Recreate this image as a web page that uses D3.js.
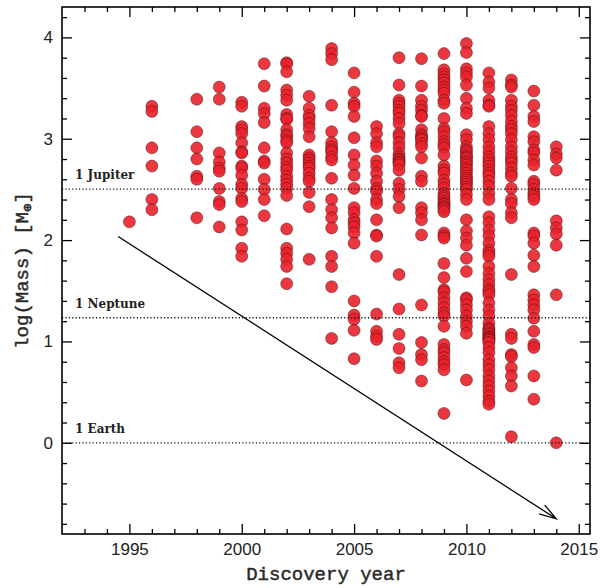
<!DOCTYPE html>
<html>
<head>
<meta charset="utf-8">
<script src="https://cdn.jsdelivr.net/npm/d3@7"></script>
<style>
  html, body { margin: 0; padding: 0; background: #fff; }
  svg { display: block; }
</style>
</head>
<body>
<svg id="chart" width="600" height="588"></svg>
<script>
// ---------------- DATA ----------------
const years = [1995,1996,1998,1999,2000,2001,2002,2003,2004,2005,2006,2007,2008,2009,2010,2011,2012,2013,2014];

const m1995 = [2.18];
const m1996 = [3.32, 3.27, 2.91, 2.73, 2.40, 2.30];
const m1998 = [3.39, 3.07, 2.91, 2.80, 2.63, 2.60, 2.22];
const m1999 = [3.51, 3.39, 2.86, 2.77, 2.71, 2.68, 2.51, 2.38, 2.35, 2.13];
const m2000 = [3.36, 3.32, 3.12, 3.09, 3.05, 2.96, 2.87, 2.86, 2.73, 2.71, 2.64, 2.55, 2.51, 2.41, 2.38, 2.18, 2.10, 1.92, 1.84];
const m2001 = [3.74, 3.52, 3.30, 3.25, 3.16, 2.91, 2.78, 2.76, 2.60, 2.50, 2.40, 2.24];
const m2002 = [3.75, 3.74, 3.66, 3.48, 3.43, 3.38, 3.24, 3.20, 3.19, 3.09, 3.04, 3.02, 2.98, 2.96, 2.86, 2.80, 2.76, 2.72, 2.69, 2.63, 2.59, 2.55, 2.51, 2.44, 2.11, 1.92, 1.87, 1.81, 1.74, 1.57];
const m2003 = [3.42, 3.30, 3.23, 3.20, 3.15, 3.10, 3.02, 2.84, 2.81, 2.79, 2.76, 2.73, 2.71, 2.66, 2.61, 2.58, 2.47, 2.33, 1.81];
const m2004 = [3.89, 3.84, 3.78, 3.33, 3.07, 2.96, 2.92, 2.89, 2.87, 2.82, 2.79, 2.61, 2.40, 2.30, 2.22, 2.12, 1.84, 1.74, 1.54, 1.03];
const m2005 = [3.65, 3.46, 3.35, 3.32, 3.22, 3.01, 2.84, 2.74, 2.64, 2.51, 2.32, 2.27, 2.20, 2.17, 2.13, 2.07, 1.97, 1.40, 1.26, 1.22, 1.11, 0.83];
const m2006 = [3.12, 3.05, 2.96, 2.92, 2.78, 2.73, 2.66, 2.58, 2.51, 2.48, 2.40, 2.36, 2.20, 2.05, 2.04, 1.84, 1.27, 1.10, 1.05, 1.02];
const m2007 = [3.80, 3.53, 3.38, 3.35, 3.32, 3.28, 3.25, 3.20, 3.15, 3.05, 3.02, 2.96, 2.91, 2.85, 2.82, 2.80, 2.79, 2.77, 2.76, 2.74, 2.69, 2.56, 2.50, 2.43, 2.32, 1.66, 1.32, 1.07, 0.93, 0.79, 0.74];
const m2008 = [3.79, 3.52, 3.38, 3.32, 3.28, 3.23, 3.22, 3.09, 3.04, 3.02, 3.00, 2.99, 2.95, 2.92, 2.81, 2.63, 2.58, 2.32, 2.27, 2.20, 2.05, 1.36, 0.99, 0.87, 0.82, 0.61];
const m2009 = [3.84, 3.68, 3.64, 3.61, 3.58, 3.55, 3.51, 3.48, 3.45, 3.38, 3.35, 3.20, 3.10, 3.07, 3.02, 2.97, 2.94, 2.91, 2.84, 2.73, 2.69, 2.66, 2.59, 2.55, 2.51, 2.46, 2.43, 2.41, 2.38, 2.36, 2.35, 2.33, 2.32, 2.30, 2.28, 2.07, 2.04, 2.02, 1.77, 1.63, 1.51, 1.49, 1.43, 1.38, 1.33, 1.28, 1.25, 1.15, 0.97, 0.92, 0.89, 0.84, 0.80, 0.77, 0.72, 0.29];
const m2010 = [3.94, 3.85, 3.69, 3.65, 3.61, 3.53, 3.40, 3.30, 3.25, 3.04, 2.99, 2.92, 2.89, 2.87, 2.84, 2.82, 2.81, 2.78, 2.76, 2.74, 2.71, 2.69, 2.66, 2.63, 2.61, 2.59, 2.57, 2.55, 2.52, 2.50, 2.45, 2.40, 2.20, 2.09, 2.02, 1.95, 1.82, 1.69, 1.43, 1.41, 1.36, 1.31, 1.25, 1.20, 1.15, 1.08, 0.62];
const m2011 = [3.65, 3.56, 3.50, 3.38, 3.33, 3.32, 3.12, 3.05, 2.99, 2.92, 2.87, 2.82, 2.79, 2.76, 2.73, 2.69, 2.66, 2.63, 2.58, 2.53, 2.46, 2.40, 2.23, 2.17, 2.10, 2.04, 1.97, 1.90, 1.87, 1.84, 1.74, 1.67, 1.61, 1.56, 1.51, 1.49, 1.46, 1.38, 1.31, 1.25, 1.18, 1.13, 1.12, 1.10, 1.08, 1.07, 1.05, 1.04, 1.03, 1.02, 1.01, 0.99, 0.94, 0.89, 0.82, 0.77, 0.72, 0.66, 0.61, 0.56, 0.51, 0.46, 0.41, 0.38];
const m2012 = [3.58, 3.53, 3.51, 3.38, 3.32, 3.28, 3.23, 3.17, 3.12, 3.09, 3.05, 2.99, 2.92, 2.87, 2.82, 2.79, 2.76, 2.71, 2.66, 2.63, 2.51, 2.40, 2.36, 2.27, 2.22, 1.66, 1.07, 1.03, 0.87, 0.85, 0.74, 0.66, 0.56, 0.06];
const m2013 = [3.47, 3.33, 3.22, 3.17, 3.02, 2.97, 2.89, 2.86, 2.79, 2.74, 2.58, 2.55, 2.50, 2.46, 2.43, 2.40, 2.07, 2.04, 1.97, 1.85, 1.74, 1.46, 1.41, 1.36, 1.31, 1.23, 1.10, 0.97, 0.94, 0.66, 0.43];
const m2014 = [2.92, 2.85, 2.81, 2.69, 2.19, 2.12, 2.06, 1.95, 1.46, 0.00];

const massByYear = [m1995, m1996, m1998, m1999, m2000, m2001, m2002, m2003, m2004, m2005, m2006, m2007, m2008, m2009, m2010, m2011, m2012, m2013, m2014];

// reference lines (log10 of Earth masses)
const refNames = ["1 Jupiter", "1 Neptune", "1 Earth"];
const refValues = [2.502, 1.234, 0.0];

// tick labels
const xMajorTicks = [1995, 2000, 2005, 2010, 2015];
const yMajorTicks = [0, 1, 2, 3, 4];

// arrow (year, logMass)
const arrowStart = [1994.5, 2.035];
const arrowEnd = [2014.0, -0.75];

// ---------------- CHART ----------------
const svg = d3.select("#chart");
const L = 62, R = 590, T = 7, B = 534;

const x = d3.scaleLinear().domain([1992, 2015.5]).range([L, R]);
const y = d3.scaleLinear().domain([-0.9, 4.3]).range([B, T]);

const xMinor = d3.range(1993, 2016, 1).filter(v => !xMajorTicks.includes(v));
const yMinor = d3.range(-0.8, 4.3, 0.2).map(v => +v.toFixed(1)).filter(v => !yMajorTicks.includes(v));

const tickFont = "Liberation Sans, Arial, sans-serif";

// Points
const pts = [];
years.forEach((yr, i) => massByYear[i].forEach(m => pts.push({year: yr, mass: m})));

svg.append("g").selectAll("circle").data(pts).join("circle")
  .attr("cx", d => x(d.year))
  .attr("cy", d => y(d.mass))
  .attr("r", 6)
  .attr("fill", "#e8212b")
  .attr("fill-opacity", 0.9)
  .attr("stroke", "#3a0a0a")
  .attr("stroke-opacity", 0.6)
  .attr("stroke-width", 0.7);

// Reference lines
svg.append("g").selectAll("line").data(refValues).join("line")
  .attr("x1", L).attr("x2", R)
  .attr("y1", d => y(d)).attr("y2", d => y(d))
  .attr("stroke", "#111")
  .attr("stroke-width", 1.3)
  .attr("stroke-dasharray", "1.2,2.2");

svg.append("g").selectAll("text").data(refNames).join("text")
  .attr("x", 75)
  .attr("y", (d, i) => y(refValues[i]) - 10)
  .attr("font-family", "DejaVu Serif, serif")
  .attr("font-weight", "bold")
  .attr("font-size", 12)
  .attr("fill", "#222")
  .text(d => d);

// Arrow
const ax1 = x(arrowStart[0]), ay1 = y(arrowStart[1]);
const ax2 = x(arrowEnd[0]), ay2 = y(arrowEnd[1]);
const ang = Math.atan2(ay1 - ay2, ax1 - ax2);
const headLen = 18, headAng = 17 * Math.PI / 180;
const arrowPath = d3.path();
arrowPath.moveTo(ax1, ay1); arrowPath.lineTo(ax2, ay2);
arrowPath.moveTo(ax2 + headLen * Math.cos(ang - headAng), ay2 + headLen * Math.sin(ang - headAng));
arrowPath.lineTo(ax2, ay2);
arrowPath.lineTo(ax2 + headLen * Math.cos(ang + headAng), ay2 + headLen * Math.sin(ang + headAng));
svg.append("path").attr("d", arrowPath.toString())
  .attr("fill", "none").attr("stroke", "#000").attr("stroke-width", 1.3);

// Axes (ticks inside on all four sides)
function styleAxis(g) {
  g.select(".domain").remove();
  g.selectAll(".tick line").attr("stroke", "#000").attr("stroke-width", 1.3);
  g.selectAll(".tick text").attr("font-family", tickFont).attr("font-size", 17).attr("fill", "#222");
}
svg.append("g").attr("transform", `translate(0,${B})`)
  .call(d3.axisBottom(x).tickValues(xMajorTicks).tickSize(-10).tickPadding(9).tickFormat(d3.format("d")))
  .call(styleAxis);
svg.append("g").attr("transform", `translate(0,${B})`)
  .call(d3.axisBottom(x).tickValues(xMinor).tickSize(-5).tickFormat(""))
  .call(styleAxis);
svg.append("g").attr("transform", `translate(0,${T})`)
  .call(d3.axisTop(x).tickValues(xMajorTicks).tickSize(-10).tickFormat(""))
  .call(styleAxis);
svg.append("g").attr("transform", `translate(0,${T})`)
  .call(d3.axisTop(x).tickValues(xMinor).tickSize(-5).tickFormat(""))
  .call(styleAxis);
svg.append("g").attr("transform", `translate(${L},0)`)
  .call(d3.axisLeft(y).tickValues(yMajorTicks).tickSize(-10).tickPadding(9).tickFormat(d3.format("d")))
  .call(styleAxis);
svg.append("g").attr("transform", `translate(${L},0)`)
  .call(d3.axisLeft(y).tickValues(yMinor).tickSize(-5).tickFormat(""))
  .call(styleAxis);
svg.append("g").attr("transform", `translate(${R},0)`)
  .call(d3.axisRight(y).tickValues(yMajorTicks).tickSize(-10).tickFormat(""))
  .call(styleAxis);
svg.append("g").attr("transform", `translate(${R},0)`)
  .call(d3.axisRight(y).tickValues(yMinor).tickSize(-5).tickFormat(""))
  .call(styleAxis);

// Frame
svg.append("rect").attr("x", L).attr("y", T).attr("width", R - L).attr("height", B - T)
  .attr("fill", "none").attr("stroke", "#000").attr("stroke-width", 1.6);

// Axis titles
const titleFont = "Liberation Mono, Courier New, monospace";
svg.append("text")
  .attr("x", (L + R) / 2).attr("y", 580)
  .attr("text-anchor", "middle")
  .attr("font-family", titleFont).attr("font-size", 19).attr("fill", "#2a2a2a")
  .attr("stroke", "#2a2a2a").attr("stroke-width", 0.45)
  .text("Discovery year");

const yt = svg.append("text")
  .attr("transform", `translate(28,${(T + B) / 2}) rotate(-90)`)
  .attr("text-anchor", "middle")
  .attr("font-family", titleFont).attr("font-size", 19).attr("fill", "#2a2a2a")
  .attr("stroke", "#2a2a2a").attr("stroke-width", 0.45);
yt.append("tspan").text("log(Mass) [M");
yt.append("tspan").attr("font-size", 14).attr("dy", 4).text("⊕");
yt.append("tspan").attr("dy", -4).text("]");
</script>
</body>
</html>
